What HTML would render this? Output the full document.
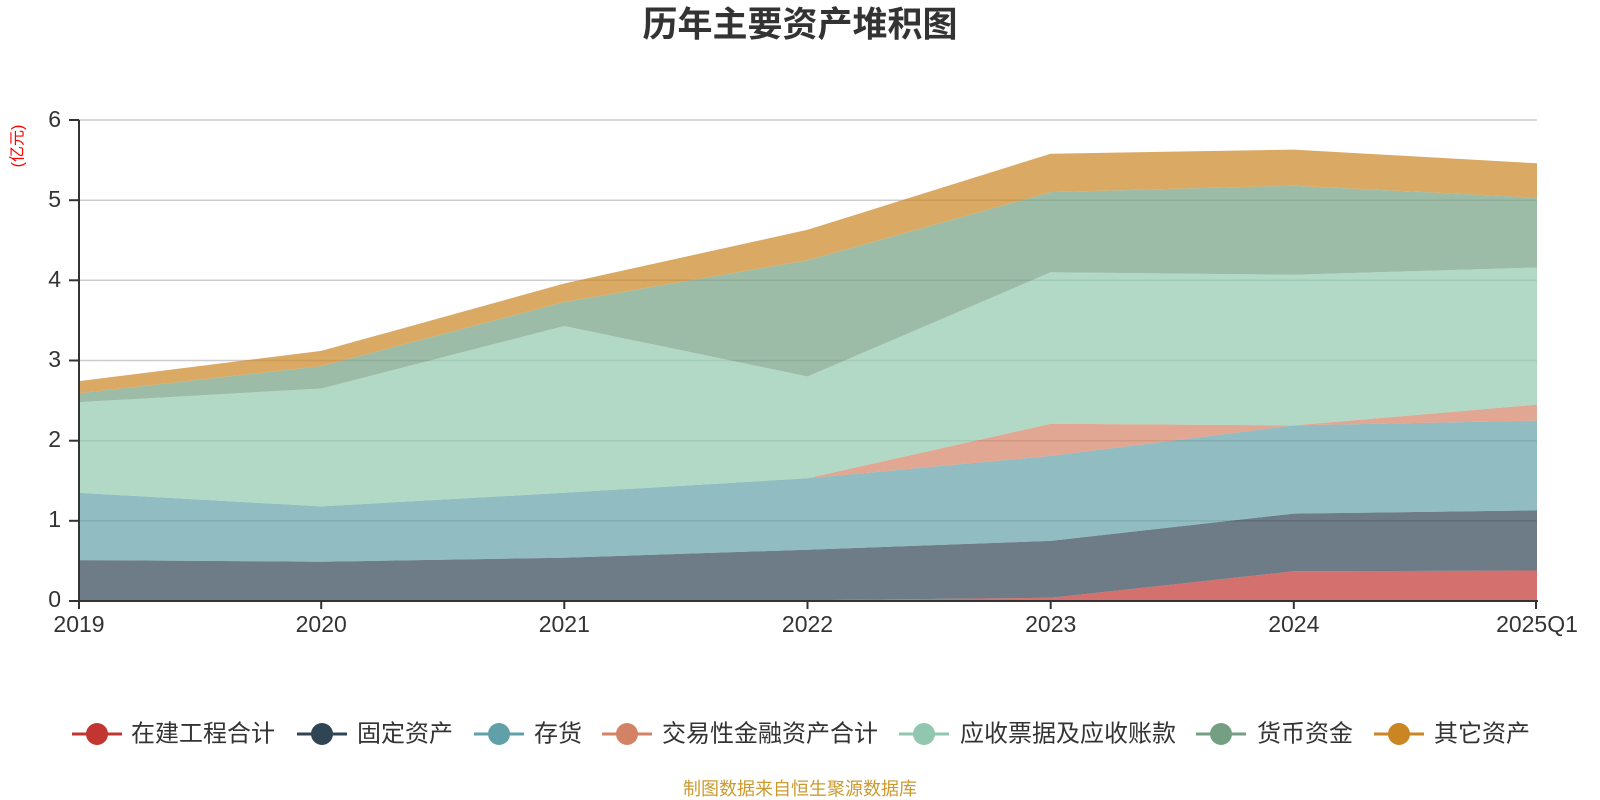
<!DOCTYPE html>
<html>
<head>
<meta charset="utf-8">
<style>
html,body{margin:0;padding:0;background:#fff;}
svg{display:block;}
text{font-family:"Liberation Sans","Noto Sans CJK SC",sans-serif;}
</style>
</head>
<body>
<svg width="1600" height="800" viewBox="0 0 1600 800" xmlns="http://www.w3.org/2000/svg">
<rect x="0" y="0" width="1600" height="800" fill="#fff"/>

<!-- Title -->
<text x="800" y="25" text-anchor="middle" dominant-baseline="central" font-size="35" font-weight="bold" fill="#333">历年主要资产堆积图</text>

<!-- Y axis name -->
<text transform="translate(18,146) rotate(-90)" text-anchor="middle" dominant-baseline="central" font-size="16" fill="#ff0000">(亿元)</text>

<!-- Grid lines -->
<g stroke="#cccccc" stroke-width="1.5">
<line x1="78" y1="120" x2="1537" y2="120"/>
<line x1="78" y1="200.2" x2="1537" y2="200.2"/>
<line x1="78" y1="280.3" x2="1537" y2="280.3"/>
<line x1="78" y1="360.5" x2="1537" y2="360.5"/>
<line x1="78" y1="440.7" x2="1537" y2="440.7"/>
<line x1="78" y1="520.8" x2="1537" y2="520.8"/>
</g>

<!-- Stacked areas -->
<g fill-opacity="0.7" stroke="none">
<!-- 在建工程合计 -->
<polygon fill="#c23531" points="78,601 321.2,601 564.3,601 807.5,600.2 1050.7,597.8 1293.8,571.3 1537,570.5 1537,601 1293.8,601 1050.7,601 807.5,601 564.3,601 321.2,601 78,601"/>
<!-- 固定资产 -->
<polygon fill="#2f4554" points="78,560.1 321.2,561.7 564.3,557.7 807.5,549.7 1050.7,540.9 1293.8,513.6 1537,510.4 1537,570.5 1293.8,571.3 1050.7,597.8 807.5,600.2 564.3,601 321.2,601 78,601"/>
<!-- 存货 -->
<polygon fill="#61a0a8" points="78,492.8 321.2,506.4 564.3,492.8 807.5,478.3 1050.7,455.9 1293.8,425.4 1537,420.6 1537,510.4 1293.8,513.6 1050.7,540.9 807.5,549.7 564.3,557.7 321.2,561.7 78,560.1"/>
<!-- 交易性金融资产合计 -->
<polygon fill="#d48265" points="78,492.8 321.2,506.4 564.3,492.8 807.5,478.3 1050.7,423.8 1293.8,425.4 1537,404.6 1537,420.6 1293.8,425.4 1050.7,455.9 807.5,478.3 564.3,492.8 321.2,506.4 78,492.8"/>
<!-- 应收票据及应收账款 -->
<polygon fill="#91c7ae" points="78,402.2 321.2,388.5 564.3,326 807.5,376.5 1050.7,272.3 1293.8,274.7 1537,267.5 1537,404.6 1293.8,425.4 1050.7,423.8 807.5,478.3 564.3,492.8 321.2,506.4 78,492.8"/>
<!-- 货币资金 -->
<polygon fill="#749f83" points="78,393.4 321.2,366.1 564.3,302 807.5,260.3 1050.7,192.1 1293.8,185.7 1537,197.7 1537,267.5 1293.8,274.7 1050.7,272.3 807.5,376.5 564.3,326 321.2,388.5 78,402.2"/>
<!-- 其它资产 -->
<polygon fill="#ca8622" points="78,381.3 321.2,350.9 564.3,283.5 807.5,229.8 1050.7,153.7 1293.8,149.6 1537,163.3 1537,197.7 1293.8,185.7 1050.7,192.1 807.5,260.3 564.3,302 321.2,366.1 78,393.4"/>
</g>

<!-- Axes -->
<g stroke="#333" stroke-width="2">
<line x1="79" y1="120" x2="79" y2="602"/>
<line x1="78" y1="601" x2="1538" y2="601"/>
<!-- y ticks -->
<line x1="69" y1="120" x2="79" y2="120"/>
<line x1="69" y1="200.2" x2="79" y2="200.2"/>
<line x1="69" y1="280.3" x2="79" y2="280.3"/>
<line x1="69" y1="360.5" x2="79" y2="360.5"/>
<line x1="69" y1="440.7" x2="79" y2="440.7"/>
<line x1="69" y1="520.8" x2="79" y2="520.8"/>
<line x1="69" y1="601" x2="79" y2="601"/>
<!-- x ticks -->
<line x1="79" y1="601" x2="79" y2="609"/>
<line x1="321.2" y1="601" x2="321.2" y2="609"/>
<line x1="564.3" y1="601" x2="564.3" y2="609"/>
<line x1="807.5" y1="601" x2="807.5" y2="609"/>
<line x1="1050.7" y1="601" x2="1050.7" y2="609"/>
<line x1="1293.8" y1="601" x2="1293.8" y2="609"/>
<line x1="1536" y1="601" x2="1536" y2="609"/>
</g>

<!-- Y labels -->
<g font-size="23" fill="#333" text-anchor="end" dominant-baseline="central">
<text x="61" y="119">6</text>
<text x="61" y="199">5</text>
<text x="61" y="279">4</text>
<text x="61" y="359">3</text>
<text x="61" y="439">2</text>
<text x="61" y="519">1</text>
<text x="61" y="599">0</text>
</g>

<!-- X labels -->
<g font-size="23" fill="#333" text-anchor="middle">
<text x="79" y="632">2019</text>
<text x="321.2" y="632">2020</text>
<text x="564.3" y="632">2021</text>
<text x="807.5" y="632">2022</text>
<text x="1050.7" y="632">2023</text>
<text x="1293.8" y="632">2024</text>
<text x="1537" y="632">2025Q1</text>
</g>

<!-- Legend -->
<g stroke-width="3">
<line x1="72" y1="734" x2="122" y2="734" stroke="#c23531"/>
<circle cx="97" cy="734" r="11" fill="#c23531"/>
<line x1="297" y1="734" x2="347" y2="734" stroke="#2f4554"/>
<circle cx="322" cy="734" r="11" fill="#2f4554"/>
<line x1="474" y1="734" x2="524" y2="734" stroke="#61a0a8"/>
<circle cx="499" cy="734" r="11" fill="#61a0a8"/>
<line x1="602" y1="734" x2="652" y2="734" stroke="#d48265"/>
<circle cx="627" cy="734" r="11" fill="#d48265"/>
<line x1="899" y1="734" x2="949" y2="734" stroke="#91c7ae"/>
<circle cx="924" cy="734" r="11" fill="#91c7ae"/>
<line x1="1196" y1="734" x2="1246" y2="734" stroke="#749f83"/>
<circle cx="1221" cy="734" r="11" fill="#749f83"/>
<line x1="1374" y1="734" x2="1424" y2="734" stroke="#ca8622"/>
<circle cx="1399" cy="734" r="11" fill="#ca8622"/>
</g>
<g font-size="24" fill="#333" dominant-baseline="central">
<text x="131" y="734">在建工程合计</text>
<text x="357" y="734">固定资产</text>
<text x="534" y="734">存货</text>
<text x="662" y="734">交易性金融资产合计</text>
<text x="960" y="734">应收票据及应收账款</text>
<text x="1257" y="734">货币资金</text>
<text x="1434" y="734">其它资产</text>
</g>

<!-- Footer -->
<text x="800" y="789" text-anchor="middle" dominant-baseline="central" font-size="18" fill="#cc9a2e">制图数据来自恒生聚源数据库</text>
</svg>
</body>
</html>
